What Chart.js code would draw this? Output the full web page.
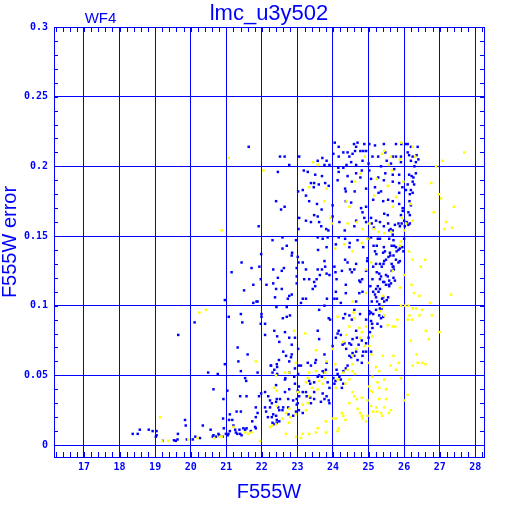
<!DOCTYPE html>
<html><head><meta charset="utf-8">
<script src="https://cdn.jsdelivr.net/npm/chart.js@4.4.0/dist/chart.umd.min.js"></script>
<style>html,body{margin:0;padding:0;background:#fff;}canvas{display:block;}</style>
</head><body>
<canvas id="c" width="512" height="512"></canvas>
<script>
const xTicks = [17,18,19,20,21,22,23,24,25,26,27,28];
const xTickLabels = ['17','18','19','20','21','22','23','24','25','26','27','28'];
const yTicks = [0,0.05,0.1,0.15,0.2,0.25,0.3];
const yTickLabels = ['0','0.05','0.1','0.15','0.2','0.25','0.3'];
const chartTitle = 'lmc_u3y502';
const chipLabel = 'WF4';
const xTitle = 'F555W';
const yTitle = 'F555W error';

const bluePoints = [
[18.37,.008],[18.51,.008],[18.57,.011],[18.82,.011],[18.93,.010],[19.04,.010],[19.04,.007],[19.02,.006],[19.21,.003],[19.53,.0034],[19.58,.003],[19.63,.004],[19.64,.008],[19.65,.079],[19.84,.018],[19.86,.014],[19.89,.004],[20.06,.004],[20.13,.006],[20.11,.088],[20.26,.005],[20.34,.014],[20.49,.052],[20.76,.051],[20.64,.040],[20.56,.011],[20.64,.007],[20.71,.006],[20.78,.008],[20.80,.007],[20.90,.006],[20.93,.012],[20.99,.008],[21.04,.007],[20.96,.104],[21.07,.092],[20.96,.058],[21.03,.039],[20.92,.033],[20.91,.019],[21.10,.022],[21.08,.018],[21.17,.018],[21.29,.024],[21.41,.024],[21.15,.124],[21.43,.131],[21.71,.127],[21.50,.111],[21.76,.115],[21.76,.102],[21.41,.094],[21.45,.088],[21.32,.070],[21.34,.060],[21.41,.053],[21.53,.048],[21.56,.046],[21.39,.035],[21.57,.035],[21.73,.017],[21.81,.013],[21.20,.014],[21.25,.011],[21.37,.011],[21.48,.012],[21.53,.011],[21.57,.012],[21.69,.010],[21.06,.008],[21.27,.009],[21.31,.008],[21.39,.008],[21.43,.007],[21.10,.010],[20.62,.006],
[21.91,.157],[21.93,.128],[22.32,.126],[22.56,.125],[22.62,.127],[22.45,.120],[21.97,.119],[22.13,.115],[22.32,.116],[22.40,.112],[22.56,.112],[21.85,.103],[22.37,.106],[22.73,.105],[22.84,.108],[22.98,.116],[22.98,.121],[23.03,.131],[22.98,.127],[22.84,.136],[22.70,.143],[22.58,.141],[22.96,.147],[22.30,.147],[22.58,.149],[21.98,.137],[21.99,.094],[21.99,.092],[22.41,.099],[22.70,.092],[22.59,.091],[22.79,.093],[22.09,.087],[22.35,.082],[22.09,.079],[22.43,.078],[22.65,.081],[22.49,.074],[22.77,.077],[22.93,.077],[22.84,.072],[22.60,.067],[21.60,.065],[22.84,.065],[22.77,.060],[22.48,.061],[22.25,.057],[22.42,.058],[22.43,.056],[22.93,.055],[21.88,.052],[22.30,.052],[22.43,.051],[22.77,.052],[22.91,.049],[23.02,.051],[22.65,.047],[22.40,.043],[22.93,.044],[22.09,.038],[21.98,.037],[22.65,.038],[23.02,.038],[21.92,.035],[22.18,.035],[22.23,.032],[22.51,.033],[22.74,.033],[22.88,.032],[22.98,.033],[22.40,.031],[22.28,.030],[22.09,.027],[22.23,.027],[22.46,.027],[22.60,.027],[22.74,.027],[22.98,.029],
[22.42,.033],[22.58,.025],[22.49,.025],[22.32,.022],[22.17,.020],[22.28,.020],[22.40,.021],[22.42,.018],[22.49,.017],[22.75,.022],[22.88,.021],[22.96,.024],[23.04,.025],[23.15,.023],[23.01,.030],[23.05,.035],[23.24,.038],[23.26,.035],[23.36,.034],[23.47,.033],[23.38,.030],[23.66,.031],[23.71,.037],[23.76,.033],[23.82,.035],[23.88,.032],[23.90,.030],[23.47,.038],[21.83,.027],[21.88,.023],[21.83,.020],[22.12,.024],[21.83,.012],[22.30,.016],[22.35,.015],[22.42,.016],
[22.26,.057],[22.35,.054],[23.04,.057],[23.10,.057],[23.29,.059],[23.38,.057],[23.50,.059],[23.52,.061],[23.57,.049],[23.61,.050],[23.71,.053],[23.76,.052],[23.80,.054],[23.69,.049],[23.82,.059],[23.85,.045],[23.90,.041],[24.01,.048],[24.07,.046],[24.04,.044],[24.10,.054],[24.13,.051],[24.18,.049],[24.22,.047],[24.25,.041],[24.29,.053],[24.36,.055],[24.41,.057],[24.29,.044],[22.66,.048],[23.04,.042],[23.33,.046],[23.36,.044],[23.47,.045],[23.15,.038],[23.01,.039],[22.77,.040],
[21.97,.087],[22.68,.064],[22.82,.063],[23.02,.069],[23.57,.082],[23.61,.076],[23.76,.065],[23.92,.090],[23.99,.071],[24.08,.077],[24.13,.080],[24.16,.082],[24.22,.079],[24.27,.072],[24.32,.073],[24.46,.073],[24.51,.072],[24.55,.076],[24.65,.082],[24.67,.077],[24.72,.072],[24.81,.075],[24.85,.067],[24.93,.073],[25.00,.077],[25.04,.081],[25.11,.084],[25.07,.067],[24.46,.064],[24.51,.063],[24.55,.066],[24.60,.064],[24.65,.067],[24.69,.061],[24.83,.064],[24.93,.067],[24.81,.059],[24.37,.069],
[21.88,.103],[22.70,.099],[22.77,.107],[23.15,.105],[23.24,.105],[23.10,.102],[23.61,.097],[23.76,.100],[23.83,.105],[23.88,.091],[24.04,.105],[24.11,.105],[24.08,.110],[24.22,.102],[24.29,.091],[24.36,.109],[24.34,.094],[24.46,.093],[24.53,.090],[24.60,.097],[24.65,.103],[24.74,.109],[24.83,.110],[24.76,.094],[24.93,.090],[25.02,.094],[25.07,.095],[25.07,.089],[25.10,.087],[25.21,.106],[25.24,.103],[25.30,.101],[25.32,.098],[25.28,.110],[25.38,.105],[25.44,.103],[25.21,.097],[25.30,.093],[25.35,.091],[25.25,.087],[25.35,.085],[25.02,.096],
[23.01,.135],[23.15,.131],[23.24,.126],[23.19,.119],[23.33,.119],[23.47,.117],[23.54,.119],[23.50,.114],[23.43,.112],[23.57,.126],[23.76,.132],[23.78,.128],[23.82,.123],[23.90,.122],[23.69,.126],[23.63,.122],[24.04,.128],[24.07,.124],[24.10,.119],[24.25,.125],[24.34,.133],[24.41,.131],[24.36,.115],[24.48,.126],[24.53,.124],[24.60,.126],[24.65,.130],[24.74,.118],[24.77,.117],[24.82,.119],[24.97,.134],[24.96,.132],[24.93,.125],[25.05,.114],[25.11,.119],[25.21,.130],[25.32,.119],[25.35,.121],[25.42,.130],[25.44,.132],[25.54,.121],[25.57,.115],[25.58,.114],[25.61,.136],[25.68,.128],[25.71,.126],[25.77,.133],[25.84,.131],[25.88,.132],[25.58,.118],[25.63,.116],[25.44,.117],[25.21,.112],
[25.09,.159],[25.15,.156],[25.32,.160],[25.43,.157],[25.55,.159],[25.62,.155],[25.74,.158],[25.84,.159],[25.88,.157],[25.93,.159],[26.07,.160],[26.12,.158],[25.68,.151],[25.32,.148],[25.23,.143],[25.14,.143],[25.18,.139],[25.43,.142],[25.46,.139],[25.65,.143],[25.72,.143],[25.79,.139],[25.84,.140],[25.49,.133],[25.56,.135],[25.60,.138],[25.70,.136],[25.41,.138],[25.22,.137],[25.65,.130],[25.70,.128],[25.32,.130],[25.37,.128],[25.13,.128],[25.23,.124],[25.30,.123],[25.49,.122],[25.65,.125],[25.70,.120],[25.74,.118],[25.41,.117],[25.49,.115],[25.26,.114],[25.32,.112],[25.13,.110],[25.18,.108],[25.41,.106],[25.51,.104],[25.55,.106],[25.09,.103],[25.37,.098],[25.13,.094],[25.41,.092],
[24.05,.217],[24.16,.214],[24.41,.210],[24.59,.216],[24.65,.214],[24.69,.217],[24.85,.211],[24.88,.216],[25.02,.216],[25.18,.215],[25.43,.216],[25.77,.216],[25.92,.216],[26.05,.216],[26.10,.216],[26.19,.214],[26.38,.214],[22.51,.207],[22.64,.207],[23.05,.207],[23.57,.204],[23.70,.206],[23.82,.204],[24.01,.209],[24.16,.207],[24.29,.210],[24.46,.207],[24.55,.209],[24.62,.211],[24.77,.211],[24.93,.211],[25.11,.207],[25.27,.207],[25.47,.210],[25.68,.207],[25.77,.207],[25.91,.207],[26.10,.210],[26.14,.208],[26.24,.207],[26.35,.208],[26.40,.205],[22.77,.201],[23.76,.201],[23.90,.201],[24.15,.199],[24.38,.201],[24.51,.203],[24.65,.201],[24.83,.204],[25.00,.202],[25.35,.200],[25.51,.204],[25.63,.202],[25.91,.203],[26.19,.204],[26.29,.200],[22.45,.196],[23.18,.197],[23.29,.196],[23.50,.194],[23.69,.193],[24.16,.196],[24.29,.199],[24.41,.193],[24.65,.195],[24.81,.197],[25.02,.197],[25.47,.195],[25.68,.194],[25.72,.198],[25.86,.194],[26.14,.194],[26.26,.192],[26.33,.195],[23.38,.188],[23.47,.188],[23.60,.187],[23.78,.188],[23.88,.186],[24.13,.190],[24.34,.184],[24.36,.182],[24.53,.189],[24.77,.192],[25.07,.191],[25.27,.192],[25.43,.190],[25.68,.189],[25.86,.188],[26.10,.187],[26.24,.189],[26.28,.187],[26.19,.183],[26.24,.181],[25.95,.185],[23.02,.182],[23.15,.183],[23.46,.185],[24.61,.182],[24.93,.184],[25.18,.185],[25.35,.182],[25.86,.181],[26.05,.183],[22.40,.175],[22.54,.169],[22.64,.171],[23.24,.179],[23.33,.175],[23.55,.173],[23.99,.172],[24.36,.175],[24.51,.174],[24.79,.170],[24.83,.167],[24.93,.171],[25.13,.176],[25.28,.181],[25.41,.175],[25.55,.176],[25.68,.175],[25.86,.173],[25.96,.170],[26.15,.175],[26.19,.172],[23.47,.165],[23.57,.164],[23.68,.169],[23.05,.163],[23.24,.161],[23.38,.160],[23.03,.155],[23.61,.160],[23.67,.157],[23.81,.155],[23.87,.154],[23.99,.164],[24.18,.160],[24.33,.154],[24.60,.157],[24.65,.161],[24.88,.163],[24.93,.160],[25.07,.163],[25.21,.161],[25.44,.166],[25.54,.165],[25.91,.165],[26.00,.161],[25.96,.168],[25.68,.154],[25.58,.154],[22.85,.138],[23.57,.149],[23.71,.148],[23.85,.149],[23.58,.140],[23.82,.142],[24.08,.144],[24.16,.149],[24.34,.148],[24.47,.145],[24.46,.142],[24.69,.147],[24.85,.142],[24.99,.148],[25.07,.149],[25.26,.148],[25.58,.148],[25.70,.147],[25.77,.142],[25.88,.141],[25.95,.142],[25.98,.139],[26.00,.148],
[26.33,.203],[26.21,.193],[26.16,.180],[26.12,.167],[26.16,.165],[26.16,.159],[26.02,.157],[21.63,.214]
];

const yellowPoints = [
[19.14,.020],[19.20,.003],[19.37,.003],[19.93,.004],[20.19,.005],[20.66,.005],[20.82,.006],[20.88,.006],[20.24,.095],[20.43,.097],[21.71,.009],[21.62,.008],[21.53,.009],[21.20,.013],[21.83,.060],[22.65,.052],[22.34,.041],[22.42,.039],[22.42,.028],[20.87,.154],[21.07,.206],[22.04,.197],
[23.44,.203],[23.57,.201],[23.82,.184],[23.76,.175],[24.38,.175],[24.46,.171],[24.62,.189],[24.77,.195],[24.89,.207],[25.16,.179],[25.23,.191],[25.44,.211],[25.38,.209],[25.54,.186],[25.57,.201],[25.63,.207],[25.66,.197],[25.77,.178],[25.92,.217],[25.88,.205],[25.68,.171],[25.94,.163],[25.98,.189],[26.05,.159],[26.24,.161],[26.19,.173],[25.91,.146],[25.88,.143],[26.14,.139],[26.31,.207],[26.24,.214],[26.90,.200],[27.08,.204],[27.69,.210],[26.76,.188],[26.98,.180],[27.04,.177],[26.83,.167],[27.40,.171],[27.18,.160],[27.13,.155],[27.35,.156],[24.41,.159],[24.67,.160],[24.83,.155],[25.15,.155],[25.02,.159],[24.06,.141],[24.32,.144],[23.92,.163],[23.97,.159],[23.33,.185],[26.00,.154],[25.63,.153],[25.44,.152],[25.28,.153],[24.97,.148],[24.81,.145],[24.55,.139],
[26.24,.133],[26.47,.128],[26.59,.133],[25.07,.131],[25.68,.125],[24.93,.126],[24.55,.103],[24.93,.109],[25.41,.107],[25.38,.099],[25.32,.096],[25.44,.093],[25.54,.086],[25.68,.085],[25.75,.085],[25.81,.090],[26.00,.122],[25.88,.113],[26.21,.115],[26.28,.109],[26.43,.107],[26.73,.102],[27.32,.108],[25.91,.100],[26.03,.100],[26.13,.100],[26.24,.098],[26.33,.098],[26.50,.097],[26.15,.093],[26.22,.090],[26.43,.093],[26.78,.093],[26.10,.090],[26.61,.082],[26.69,.076],[26.99,.081],[26.19,.075],[26.35,.065],[26.38,.059],[26.24,.057],[26.52,.059],[26.60,.058],[25.85,.059],[25.77,.054],[25.40,.064],[25.70,.064],[25.62,.057],[25.21,.056],[25.30,.053],[25.00,.059],[25.08,.065],[25.02,.071],[24.88,.071],[24.81,.081],[24.76,.077],[24.74,.084],[24.60,.091],[24.58,.095],[24.93,.085],[25.11,.078],[24.13,.092],[23.99,.069],[24.29,.074],[24.37,.079],[24.46,.085],[24.65,.069],[24.55,.064],[24.29,.052],[24.41,.054],[24.55,.058],[24.55,.053],[24.62,.051],[24.13,.047],[24.08,.041],[24.35,.044],[24.46,.047],[24.55,.038],[24.60,.035],[24.67,.033],[24.46,.030],[24.81,.034],[24.97,.032],[25.07,.028],[25.22,.027],[25.11,.038],[25.02,.042],[25.25,.045],[25.30,.041],[25.49,.040],[25.44,.047],[25.49,.033],[25.30,.033],[25.44,.027],[25.63,.025],[25.57,.023],[25.24,.024],[25.35,.023],[25.38,.021],[25.13,.024],[24.97,.021],[24.81,.021],[24.76,.023],[24.93,.017],[24.83,.019],[24.29,.021],[24.35,.018],[24.25,.023],[24.01,.019],[24.08,.019],[24.16,.012],[24.13,.010],[23.80,.017],[23.80,.009],[23.57,.012],[23.52,.009],[23.33,.008],[23.15,.008],[23.10,.005],[22.96,.006],[22.68,.008],[22.23,.013],[22.29,.014],[22.40,.015],[22.58,.019],[22.80,.020],[22.68,.023],[22.77,.026],[22.77,.016],[23.24,.025],[23.29,.030],[23.33,.035],[23.15,.029],[22.96,.022],[23.01,.038],[23.24,.045],[23.41,.041],[23.57,.040],[23.61,.046],[23.71,.044],[23.76,.048],[23.78,.052],[23.52,.053],[23.33,.052],[23.29,.048],[22.96,.059],[22.77,.052],[22.40,.050],[21.95,.003],[22.91,.082],[23.22,.080],[23.52,.068],[23.82,.060],[24.06,.058],[25.91,.048],[26.10,.036],[26.00,.032],[25.11,.049],[25.05,.039],[24.69,.026]
];

const BLUE = '#0000ff';
const YELLOW = '#ffff00';
const tickFont = {family: 'DejaVu Sans Mono', weight: 'bold', size: 10};
const titleFont = {family: 'Liberation Sans', size: 20, lineHeight: 1};

const toXY = arr => arr.map(p => ({x: p[0], y: p[1]}));

const framePlugin = {
  id: 'frame',
  afterDraw(chart) {
    const {ctx, chartArea: a, scales} = chart;
    const xs = scales.x, ys = scales.y;
    ctx.save();
    ctx.strokeStyle = BLUE;
    ctx.lineWidth = 1;
    ctx.strokeRect(a.left + 0.5, a.top + 0.5, a.right - a.left, a.bottom - a.top);
    ctx.beginPath();
    for (let i = 81; i <= 141; i++) {
      const px = Math.round(xs.getPixelForValue(i / 5)) + 0.5;
      if (px < a.left || px > a.right) continue;
      ctx.moveTo(px, a.bottom); ctx.lineTo(px, a.bottom - 5);
      ctx.moveTo(px, a.top); ctx.lineTo(px, a.top + 5);
    }
    for (let i = 0; i <= 30; i++) {
      const py = Math.round(ys.getPixelForValue(i / 100)) + 0.5;
      ctx.moveTo(a.left, py); ctx.lineTo(a.left + 4, py);
      ctx.moveTo(a.right, py); ctx.lineTo(a.right - 4, py);
    }
    ctx.stroke();
    ctx.fillStyle = BLUE;
    ctx.textAlign = 'center';
    ctx.textBaseline = 'alphabetic';
    ctx.font = '22px "Liberation Sans"';
    ctx.fillText(chartTitle, 269, 19.5);
    ctx.font = '15px "Liberation Sans"';
    ctx.fillText(chipLabel, 100.5, 23);
    ctx.restore();
  }
};

new Chart(document.getElementById('c'), {
  type: 'scatter',
  data: {
    datasets: [
      {label: 'yellow', data: toXY(yellowPoints), backgroundColor: YELLOW, pointStyle: 'rect', pointRadius: 1.75, borderWidth: 0},
      {label: 'blue', data: toXY(bluePoints), backgroundColor: BLUE, pointStyle: 'rect', pointRadius: 1.75, borderWidth: 0}
    ]
  },
  options: {
    responsive: false,
    animation: false,
    devicePixelRatio: 1,
    layout: {padding: {left: 0, right: 28, top: 27, bottom: 0}},
    plugins: {legend: {display: false}, tooltip: {enabled: false}, title: {display: false}},
    scales: {
      x: {
        type: 'linear', position: 'bottom', min: 16.157, max: 28.245,
        afterBuildTicks: s => { s.ticks = xTicks.map(v => ({value: v})); },
        afterFit: s => { s.height = 55; },
        ticks: {color: BLUE, font: tickFont, padding: 4, autoSkip: false, maxRotation: 0,
                callback: (v, i) => xTickLabels[i]},
        grid: {color: BLUE, lineWidth: 1, drawTicks: false},
        border: {display: false},
        title: {display: true, text: xTitle, color: BLUE, font: titleFont, padding: {top: 0, bottom: 10}}
      },
      y: {
        type: 'linear', position: 'left', min: -0.0086, max: 0.3,
        afterBuildTicks: s => { s.ticks = yTicks.map(v => ({value: v})); },
        afterFit: s => { s.width = 54; },
        ticks: {color: BLUE, font: tickFont, padding: 6, autoSkip: false,
                callback: (v, i) => yTickLabels[i]},
        grid: {color: BLUE, lineWidth: 1, drawTicks: false},
        border: {display: false},
        title: {display: true, text: yTitle, color: BLUE, font: titleFont, padding: {top: 0, bottom: 0}}
      }
    }
  },
  plugins: [framePlugin]
});
</script>
</body></html>
